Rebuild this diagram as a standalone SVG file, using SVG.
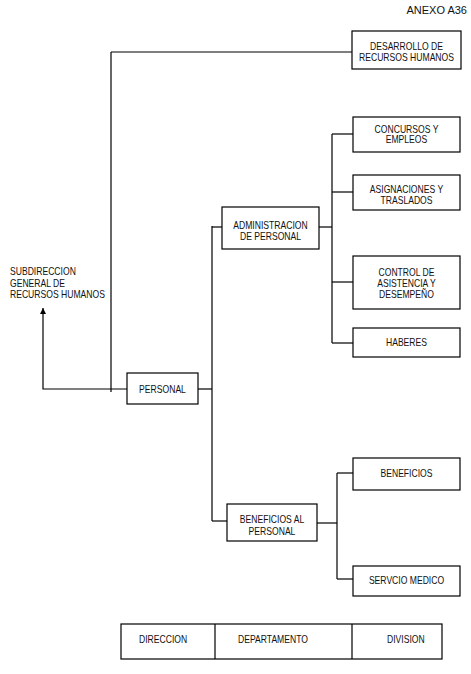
<svg xmlns="http://www.w3.org/2000/svg" width="471" height="674" viewBox="0 0 471 674">
<style>
rect.b { fill: #fff; stroke: #000; stroke-width: 1.2; }
.c path { fill: none; stroke: #000; stroke-width: 1.2; }
text { font-family: "Liberation Sans", Arial, sans-serif; font-size: 10px; fill: #111; }
text.m { text-anchor: middle; transform-box: fill-box; transform-origin: center; transform: scaleX(0.86); }
text.s { transform-box: fill-box; transform-origin: left center; transform: scaleX(0.86); }
</style>
<defs>
<marker id="arr" viewBox="0 0 10 10" refX="10" refY="5" markerWidth="10" markerHeight="6" markerUnits="userSpaceOnUse" orient="auto">
<path d="M0,0 L10,5 L0,10 Z" fill="#000"/>
</marker>
</defs>
<rect width="471" height="674" fill="#fff"/>
<text x="467" y="14" text-anchor="end" style="font-size:11px">ANEXO A36</text>

<g class="c">
<path d="M111,52 H352"/>
<path d="M111,52 V392"/>
<path d="M127,389 H43 V308" marker-end="url(#arr)"/>
<path d="M198,389 H212"/>
<path d="M212,226 V521"/>
<path d="M212,227 H222"/>
<path d="M212,521 H227"/>
<path d="M319,227 H332"/>
<path d="M332,134 V343"/>
<path d="M332,134 H353"/>
<path d="M332,192 H353"/>
<path d="M332,282 H353"/>
<path d="M332,343 H353"/>
<path d="M317,523 H337"/>
<path d="M337,473 V579"/>
<path d="M337,473 H353"/>
<path d="M337,579 H353"/>
</g>

<g id="subdireccion">
<text class="s" x="10" y="275.5">SUBDIRECCION</text>
<text class="s" x="10" y="287">GENERAL DE</text>
<text class="s" x="10" y="298.5">RECURSOS HUMANOS</text>
</g>

<g id="desarrollo">
<rect class="b" x="352" y="31" width="109" height="38"/>
<text class="m" x="406.5" y="50.5">DESARROLLO DE</text>
<text class="m" x="406.5" y="61.5">RECURSOS HUMANOS</text>
</g>

<g id="personal">
<rect class="b" x="127" y="373" width="71" height="31"/>
<text class="m" x="162.5" y="393">PERSONAL</text>
</g>

<g id="administracion">
<rect class="b" x="222" y="207" width="97" height="42"/>
<text class="m" x="270.5" y="229.5">ADMINISTRACION</text>
<text class="m" x="270.5" y="240">DE PERSONAL</text>
</g>

<g id="concursos">
<rect class="b" x="353" y="117" width="107" height="35"/>
<text class="m" x="406.5" y="132.7">CONCURSOS Y</text>
<text class="m" x="406.5" y="143.5">EMPLEOS</text>
</g>

<g id="asignaciones">
<rect class="b" x="353" y="175" width="107" height="35"/>
<text class="m" x="406.5" y="192.7">ASIGNACIONES Y</text>
<text class="m" x="406.5" y="204">TRASLADOS</text>
</g>

<g id="control">
<rect class="b" x="353" y="256" width="107" height="53"/>
<text class="m" x="406.5" y="275.7">CONTROL DE</text>
<text class="m" x="406.5" y="286.7">ASISTENCIA Y</text>
<text class="m" x="406.5" y="297.7">DESEMPEÑO</text>
</g>

<g id="haberes">
<rect class="b" x="353" y="328" width="107" height="29"/>
<text class="m" x="406.5" y="346.5">HABERES</text>
</g>

<g id="beneficios-personal">
<rect class="b" x="227" y="504" width="90" height="37"/>
<text class="m" x="272" y="522.7">BENEFICIOS AL</text>
<text class="m" x="272" y="535">PERSONAL</text>
</g>

<g id="beneficios">
<rect class="b" x="353" y="458" width="107" height="32"/>
<text class="m" x="406.5" y="477">BENEFICIOS</text>
</g>

<g id="servicio-medico">
<rect class="b" x="353" y="566" width="107" height="30"/>
<text class="m" x="406.5" y="584">SERVCIO MEDICO</text>
</g>

<g id="leyenda">
<rect class="b" x="121" y="624" width="321" height="35"/>
<path d="M215,624 V659 M352,624 V659" stroke="#000" stroke-width="1.2" fill="none"/>
<text class="s" x="139" y="643">DIRECCION</text>
<text class="s" x="238" y="643">DEPARTAMENTO</text>
<text class="s" x="387" y="643">DIVISION</text>
</g>
</svg>
